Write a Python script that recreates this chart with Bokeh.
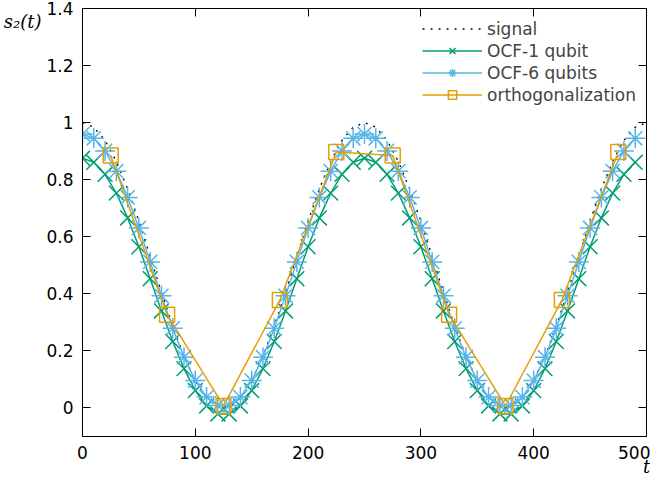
from bokeh.plotting import figure
from bokeh.models import FixedTicker, LinearAxis, Range1d, Legend, LegendItem
from bokeh.embed import file_html
from bokeh.resources import INLINE

# ---- data ----
signal_t = [0, 10, 20, 30, 40, 50, 60, 70, 80, 90, 100, 110, 120, 130, 140, 150, 160, 170, 180, 190,
            200, 210, 220, 230, 240, 250, 260, 270, 280, 290, 300, 310, 320, 330, 340, 350, 360, 370,
            380, 390, 400, 410, 420, 430, 440, 450, 460, 470, 480, 490, 500]
signal = [1.000, 0.984, 0.938, 0.864, 0.768, 0.655, 0.531, 0.406, 0.287, 0.181, 0.095, 0.035, 0.004,
          0.004, 0.035, 0.095, 0.181, 0.287, 0.406, 0.531, 0.655, 0.768, 0.864, 0.938, 0.984, 1.000,
          0.984, 0.938, 0.864, 0.768, 0.655, 0.531, 0.406, 0.287, 0.181, 0.095, 0.035, 0.004,
          0.004, 0.035, 0.095, 0.181, 0.287, 0.406, 0.531, 0.655, 0.768, 0.864, 0.938, 0.984, 1.000]

t = [0, 10, 20, 30, 40, 50, 60, 70, 80, 90, 100, 110, 120, 130, 140, 150, 160, 170, 180, 190,
     200, 210, 220, 230, 240, 250, 260, 270, 280, 290, 300, 310, 320, 330, 340, 350, 360, 370,
     380, 390, 400, 410, 420, 430, 440, 450, 460, 470, 480, 490]
ocf1 = [0.875, 0.861, 0.819, 0.753, 0.666, 0.565, 0.453, 0.340, 0.233, 0.138, 0.061, 0.007, -0.021,
        -0.021, 0.007, 0.061, 0.138, 0.233, 0.340, 0.453, 0.565, 0.666, 0.753, 0.819, 0.861, 0.875,
        0.861, 0.819, 0.753, 0.666, 0.565, 0.453, 0.340, 0.233, 0.138, 0.061, 0.007, -0.021,
        -0.021, 0.007, 0.061, 0.138, 0.233, 0.340, 0.453, 0.565, 0.666, 0.753, 0.819, 0.861]
ocf6 = [0.960, 0.945, 0.901, 0.830, 0.738, 0.631, 0.512, 0.393, 0.279, 0.178, 0.096, 0.038, 0.009,
        0.009, 0.038, 0.096, 0.178, 0.279, 0.393, 0.512, 0.631, 0.738, 0.830, 0.901, 0.945, 0.960,
        0.945, 0.901, 0.830, 0.738, 0.631, 0.512, 0.393, 0.279, 0.178, 0.096, 0.038, 0.009,
        0.009, 0.038, 0.096, 0.178, 0.279, 0.393, 0.512, 0.631, 0.738, 0.830, 0.901, 0.945]

orth_t = [25, 75, 125, 175, 225, 275, 325, 375, 425, 475]
orth = [0.885, 0.327, 0.007, 0.378, 0.897, 0.885, 0.327, 0.007, 0.378, 0.897]

x_ticks = [0, 100, 200, 300, 400, 500]
x_tick_labels = ["0", "100", "200", "300", "400", "500"]
y_ticks = [0, 0.2, 0.4, 0.6, 0.8, 1.0, 1.2, 1.4]
y_tick_labels = ["0", "0.2", "0.4", "0.6", "0.8", "1", "1.2", "1.4"]

series_names = ["signal", "OCF-1 qubit", "OCF-6 qubits", "orthogonalization"]
colors = ["#000000", "#009e73", "#56b4e9", "#e69f00"]
x_title = "t"
y_title = "\ns\u2082(t)"

FONT = "DejaVu Sans"
FS = "17px"

p = figure(width=650, height=479, output_backend="svg", toolbar_location=None,
           x_range=Range1d(0, 500), y_range=Range1d(-0.1, 1.4),
           min_border_left=70, min_border_right=4, min_border_top=8, min_border_bottom=40)
p.grid.visible = False
p.outline_line_color = "black"
p.outline_line_width = 1
p.background_fill_color = "white"
p.border_fill_color = "white"

has_align = "axis_label_align" in LinearAxis.properties()

for ax, ticks, labels in ((p.xaxis[0], x_ticks, x_tick_labels), (p.yaxis[0], y_ticks, y_tick_labels)):
    ax.ticker = FixedTicker(ticks=ticks)
    ax.major_label_overrides = {float(k): v for k, v in zip(ticks, labels)}
    ax.major_tick_in = 8
    ax.major_tick_out = 0
    ax.minor_tick_in = 0
    ax.minor_tick_out = 0
    ax.axis_line_color = "black"
    ax.major_tick_line_color = "black"
    ax.major_label_text_font = FONT
    ax.major_label_text_font_size = FS
    ax.major_label_text_color = "black"
    ax.axis_label_text_font = "DejaVu Serif"
    ax.axis_label_text_font_style = "italic"
    ax.axis_label_text_font_size = "18px"
    ax.axis_label_text_color = "black"
p.xaxis[0].major_label_standoff = 9
p.yaxis[0].major_label_standoff = 9

p.xaxis[0].axis_label = x_title
p.xaxis[0].axis_label_standoff = -6
p.yaxis[0].axis_label = y_title
p.yaxis[0].axis_label_orientation = "horizontal"
p.yaxis[0].axis_label_standoff = 2
if has_align:
    p.xaxis[0].axis_label_align = "end"
    p.yaxis[0].axis_label_align = "end"

# mirrored ticks on top and right
def mirror(ticks):
    return LinearAxis(ticker=FixedTicker(ticks=ticks), major_tick_in=8, major_tick_out=0,
                      minor_tick_in=0, minor_tick_out=0, major_label_text_font_size="1px",
                      major_label_overrides={float(k): "" for k in ticks},
                      major_label_standoff=0, axis_line_color="black")
p.add_layout(mirror(x_ticks), "above")
p.add_layout(mirror(y_ticks), "right")

# series
r_sig = p.line(signal_t, signal, line_color=colors[0], line_width=1.3, line_dash="2 6")

r1l = p.line(t, ocf1, line_color=colors[1], line_width=1.5)
r1m = p.scatter(t, ocf1, marker="x", size=21, line_color=colors[1], line_width=1.5)

r6l = p.line(t, ocf6, line_color=colors[2], line_width=1.5)
r6m = p.scatter(t, ocf6, marker="asterisk", size=20, line_color=colors[2], line_width=1.5)

rol = p.line(orth_t, orth, line_color=colors[3], line_width=1.5)
rom = p.scatter(orth_t, orth, marker="square", size=15, line_color=colors[3], fill_color=None,
                line_width=1.5)

legend = Legend(items=[
    LegendItem(label=series_names[0], renderers=[r_sig]),
    LegendItem(label=series_names[1], renderers=[r1l, r1m]),
    LegendItem(label=series_names[2], renderers=[r6l, r6m]),
    LegendItem(label=series_names[3], renderers=[rol, rom]),
], location="top_right")
legend.border_line_color = None
legend.background_fill_alpha = 0
legend.label_text_font = FONT
legend.label_text_font_size = FS
legend.glyph_width = 60
legend.glyph_height = 21
legend.label_height = 21
legend.spacing = 1
legend.padding = 4
legend.margin = 10
p.add_layout(legend)

open("out.html", "w").write(file_html(p, INLINE))
